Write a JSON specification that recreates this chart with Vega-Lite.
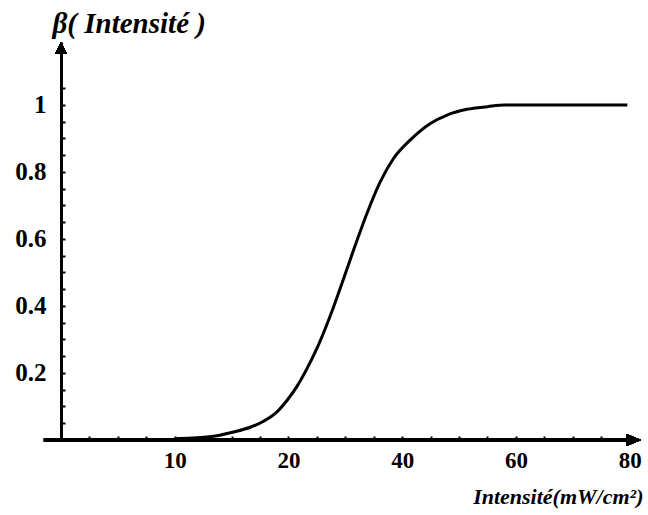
{
  "$schema": "https://vega.github.io/schema/vega-lite/v6.json",
  "width": 580,
  "height": 398,
  "autosize": {"type": "none"},
  "padding": {"left": 61, "top": 42, "right": 7, "bottom": 75},
  "background": "white",
  "config": {"view": {"stroke": null}, "font": "Liberation Serif"},
  "data": {
    "values": [
      {"intensite": 10, "beta": 0.004},
      {"intensite": 11.5, "beta": 0.006},
      {"intensite": 12.8, "beta": 0.009},
      {"intensite": 13.56, "beta": 0.012},
      {"intensite": 15.17, "beta": 0.024},
      {"intensite": 16.64, "beta": 0.038},
      {"intensite": 17.81, "beta": 0.056},
      {"intensite": 18.99, "beta": 0.084},
      {"intensite": 19.87, "beta": 0.118},
      {"intensite": 20.75, "beta": 0.16},
      {"intensite": 21.63, "beta": 0.213},
      {"intensite": 22.51, "beta": 0.274},
      {"intensite": 23.24, "beta": 0.333},
      {"intensite": 24.0, "beta": 0.4},
      {"intensite": 24.71, "beta": 0.468},
      {"intensite": 25.88, "beta": 0.582},
      {"intensite": 26.91, "beta": 0.677},
      {"intensite": 28.08, "beta": 0.771},
      {"intensite": 29.25, "beta": 0.841},
      {"intensite": 30.72, "beta": 0.896},
      {"intensite": 32.48, "beta": 0.945},
      {"intensite": 33.95, "beta": 0.97},
      {"intensite": 35.71, "beta": 0.987},
      {"intensite": 37.5, "beta": 0.995},
      {"intensite": 39.0, "beta": 1.0},
      {"intensite": 49.8, "beta": 1.0}
    ]
  },
  "layer": [
    {
      "mark": {"type": "line", "color": "black", "strokeWidth": 3, "interpolate": "monotone"},
      "encoding": {
        "x": {
          "field": "intensite",
          "type": "quantitative",
          "scale": {"domain": [0, 51], "nice": false, "zero": false},
          "axis": {
            "values": [2.5, 5, 7.5, 10, 12.5, 15, 17.5, 20, 22.5, 25, 27.5, 30, 32.5, 35, 37.5, 40, 42.5, 45, 47.5, 50],
            "tickCount": 100,
            "labelExpr": "datum.value == 10 ? '10' : datum.value == 20 ? '20' : datum.value == 30 ? '40' : datum.value == 40 ? '60' : datum.value == 50 ? '80' : ''",
            "domain": false,
            "grid": false,
            "ticks": true,
            "tickSize": -4,
            "tickColor": "black",
            "tickWidth": 2,
            "labelOverlap": false,
            "labelFlush": false,
            "labelFont": "Liberation Serif",
            "labelFontWeight": "bold",
            "labelFontSize": 23,
            "labelColor": "black",
            "labelPadding": 13,
            "labelDx": 3,
            "title": "Intensité(mW/cm²)",
            "titleFont": "Liberation Serif",
            "titleFontStyle": "italic",
            "titleFontWeight": "bold",
            "titleFontSize": 22,
            "titleColor": "black",
            "titleX": 582,
            "titleY": 63,
            "titleAlign": "right",
            "titleAnchor": null,
            "titleBaseline": "alphabetic"
          }
        },
        "y": {
          "field": "beta",
          "type": "quantitative",
          "scale": {"domain": [0, 1.188], "nice": false},
          "axis": {
            "values": [0.05, 0.1, 0.15, 0.2, 0.25, 0.3, 0.35, 0.4, 0.45, 0.5, 0.55, 0.6, 0.65, 0.7, 0.75, 0.8, 0.85, 0.9, 0.95, 1, 1.05],
            "tickCount": 100,
            "labelExpr": "indexof([0.2, 0.4, 0.6, 0.8, 1], datum.value) >= 0 ? format(datum.value, '~g') : ''",
            "domain": true,
            "domainColor": "black",
            "domainWidth": 3,
            "grid": false,
            "tickSize": -4,
            "tickColor": "black",
            "tickWidth": 2,
            "labelOverlap": false,
            "labelFlush": false,
            "labelFont": "Liberation Serif",
            "labelFontWeight": "bold",
            "labelFontSize": 25,
            "labelColor": "black",
            "labelPadding": 19,
            "labelDy": 2,
            "title": "β( Intensité )",
            "titleFont": "Liberation Serif",
            "titleFontStyle": "italic",
            "titleFontWeight": "bold",
            "titleFontSize": 29,
            "titleColor": "black",
            "titleAngle": 0,
            "titleX": -9,
            "titleY": -10,
            "titleAlign": "left",
            "titleAnchor": null,
            "titleBaseline": "alphabetic"
          }
        }
      }
    },
    {
      "mark": {"type": "rule", "color": "black", "strokeWidth": 3},
      "encoding": {
        "x": {"datum": -1.5, "type": "quantitative"},
        "x2": {"datum": 50},
        "y": {"datum": 0, "type": "quantitative"}
      }
    },
    {
      "mark": {"type": "point", "shape": "M0,0L-2.4,-1L-2.4,1Z", "filled": true, "color": "black", "opacity": 1, "size": 144},
      "encoding": {
        "x": {"datum": 51, "type": "quantitative"},
        "y": {"datum": 0, "type": "quantitative"}
      }
    },
    {
      "mark": {"type": "point", "shape": "M0,0L-1,2L1,2Z", "filled": true, "color": "black", "opacity": 1, "size": 144},
      "encoding": {
        "x": {"datum": 0, "type": "quantitative"},
        "y": {"datum": 1.188, "type": "quantitative"}
      }
    }
  ]
}
